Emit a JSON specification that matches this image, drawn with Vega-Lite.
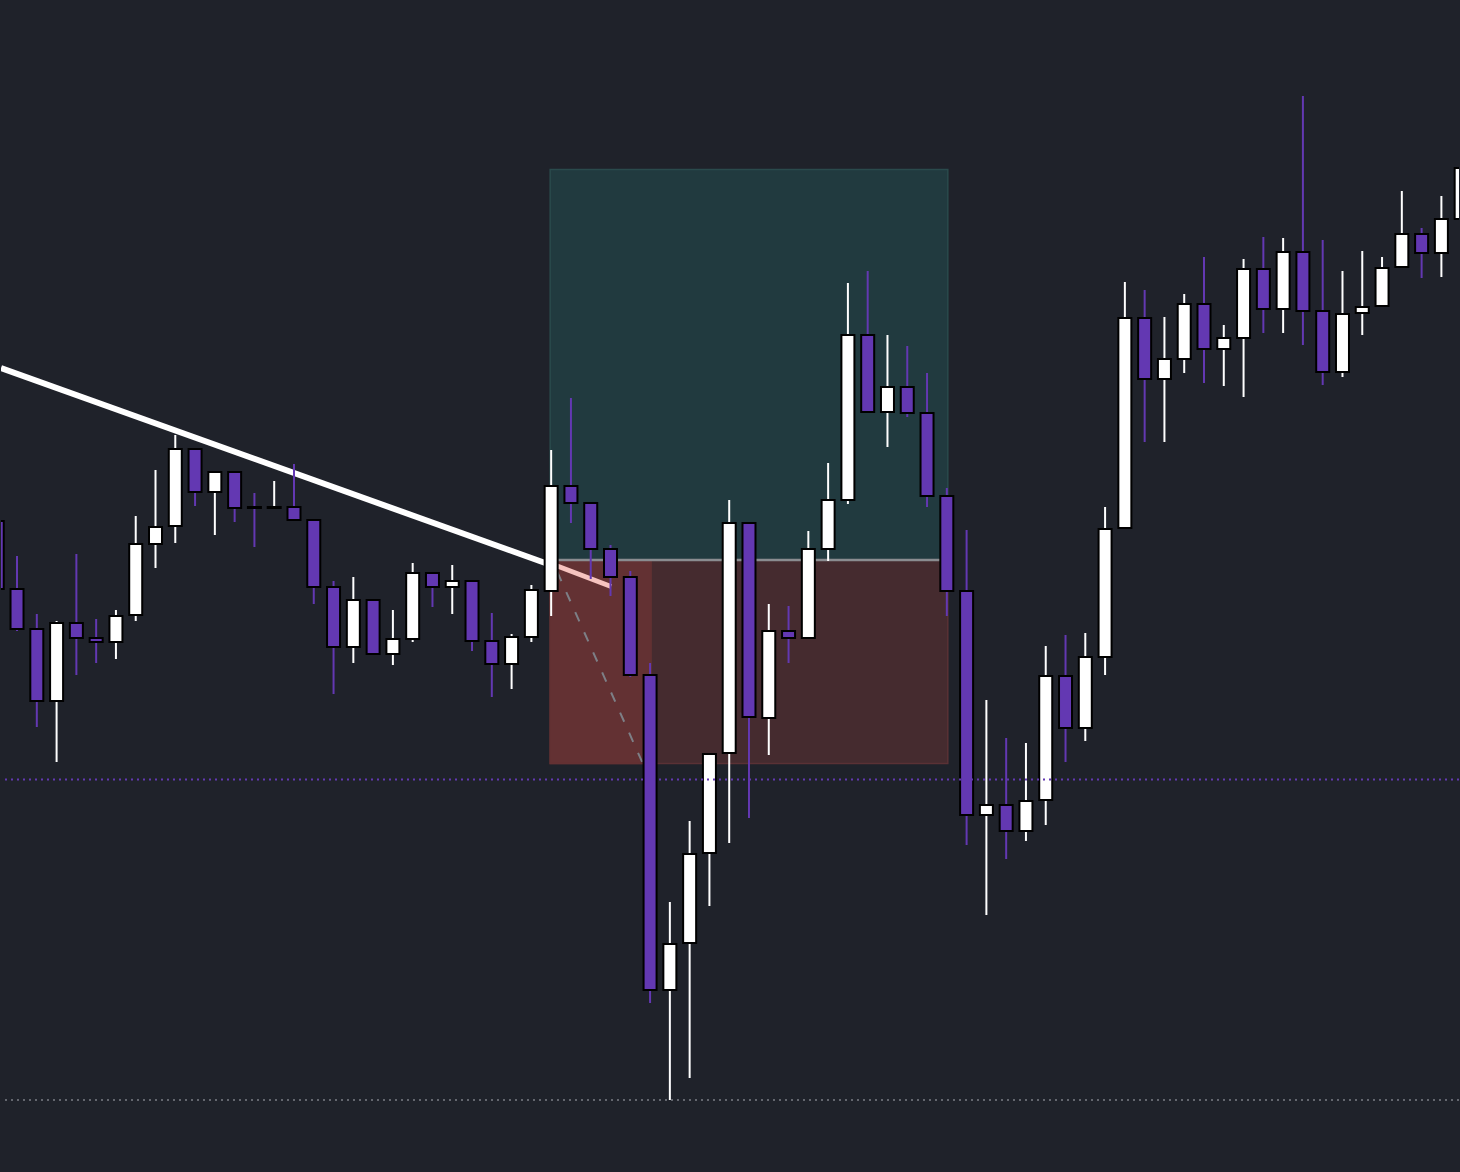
{
  "$schema": "https://vega.github.io/schema/vega-lite/v6.json",
  "width": 1460,
  "height": 1172,
  "autosize": {"type": "fit", "contains": "padding"},
  "padding": 0,
  "background": "#1f222a",
  "config": {"view": {"stroke": null}, "scale": {"continuousPadding": 0}},
  "datasets": {
    "candles": [
      {"i": 0, "o": 651, "h": 657, "l": 577, "c": 583},
      {"i": 1, "o": 583, "h": 616, "l": 541, "c": 543},
      {"i": 2, "o": 543, "h": 558, "l": 445, "c": 471},
      {"i": 3, "o": 471, "h": 551, "l": 410, "c": 549},
      {"i": 4, "o": 549, "h": 618, "l": 497, "c": 534},
      {"i": 5, "o": 534, "h": 553, "l": 509, "c": 530},
      {"i": 6, "o": 530, "h": 562, "l": 513, "c": 556},
      {"i": 7, "o": 557, "h": 656, "l": 551, "c": 628},
      {"i": 8, "o": 628, "h": 702, "l": 604, "c": 645},
      {"i": 9, "o": 646, "h": 737, "l": 629, "c": 723},
      {"i": 10, "o": 723, "h": 723, "l": 666, "c": 680},
      {"i": 11, "o": 680, "h": 700, "l": 637, "c": 700},
      {"i": 12, "o": 700, "h": 700, "l": 650, "c": 664},
      {"i": 13, "o": 665, "h": 679, "l": 625, "c": 664},
      {"i": 14, "o": 664, "h": 691, "l": 664, "c": 665},
      {"i": 15, "o": 665, "h": 708, "l": 652, "c": 652},
      {"i": 16, "o": 652, "h": 652, "l": 568, "c": 585},
      {"i": 17, "o": 585, "h": 591, "l": 478, "c": 525},
      {"i": 18, "o": 525, "h": 595, "l": 509, "c": 572},
      {"i": 19, "o": 572, "h": 572, "l": 518, "c": 518},
      {"i": 20, "o": 518, "h": 562, "l": 507, "c": 533},
      {"i": 21, "o": 533, "h": 609, "l": 530, "c": 599},
      {"i": 22, "o": 599, "h": 599, "l": 565, "c": 585},
      {"i": 23, "o": 585, "h": 607, "l": 558, "c": 591},
      {"i": 24, "o": 591, "h": 591, "l": 521, "c": 531},
      {"i": 25, "o": 531, "h": 559, "l": 475, "c": 508},
      {"i": 26, "o": 508, "h": 538, "l": 483, "c": 535},
      {"i": 27, "o": 535, "h": 587, "l": 530, "c": 582},
      {"i": 28, "o": 581, "h": 722, "l": 556, "c": 686},
      {"i": 29, "o": 686, "h": 774, "l": 649, "c": 669},
      {"i": 30, "o": 669, "h": 669, "l": 593, "c": 623},
      {"i": 31, "o": 623, "h": 627, "l": 576, "c": 595},
      {"i": 32, "o": 595, "h": 601, "l": 495, "c": 497},
      {"i": 33, "o": 497, "h": 509, "l": 169, "c": 182},
      {"i": 34, "o": 182, "h": 270, "l": 72, "c": 228},
      {"i": 35, "o": 229, "h": 351, "l": 94, "c": 318},
      {"i": 36, "o": 319, "h": 418, "l": 266, "c": 418},
      {"i": 37, "o": 419, "h": 672, "l": 329, "c": 649},
      {"i": 38, "o": 649, "h": 649, "l": 354, "c": 455},
      {"i": 39, "o": 454, "h": 568, "l": 417, "c": 541},
      {"i": 40, "o": 541, "h": 566, "l": 509, "c": 534},
      {"i": 41, "o": 534, "h": 641, "l": 534, "c": 623},
      {"i": 42, "o": 623, "h": 709, "l": 611, "c": 672},
      {"i": 43, "o": 672, "h": 889, "l": 668, "c": 837},
      {"i": 44, "o": 837, "h": 901, "l": 760, "c": 760},
      {"i": 45, "o": 760, "h": 837, "l": 725, "c": 785},
      {"i": 46, "o": 785, "h": 826, "l": 755, "c": 759},
      {"i": 47, "o": 759, "h": 799, "l": 665, "c": 676},
      {"i": 48, "o": 676, "h": 684, "l": 556, "c": 581},
      {"i": 49, "o": 581, "h": 642, "l": 327, "c": 357},
      {"i": 50, "o": 357, "h": 472, "l": 257, "c": 367},
      {"i": 51, "o": 367, "h": 434, "l": 313, "c": 341},
      {"i": 52, "o": 341, "h": 429, "l": 331, "c": 371},
      {"i": 53, "o": 372, "h": 526, "l": 347, "c": 496},
      {"i": 54, "o": 496, "h": 537, "l": 410, "c": 444},
      {"i": 55, "o": 444, "h": 539, "l": 431, "c": 515},
      {"i": 56, "o": 515, "h": 665, "l": 497, "c": 643},
      {"i": 57, "o": 644, "h": 890, "l": 644, "c": 854},
      {"i": 58, "o": 854, "h": 882, "l": 730, "c": 793},
      {"i": 59, "o": 793, "h": 855, "l": 730, "c": 813},
      {"i": 60, "o": 813, "h": 878, "l": 799, "c": 868},
      {"i": 61, "o": 868, "h": 915, "l": 789, "c": 823},
      {"i": 62, "o": 823, "h": 847, "l": 786, "c": 834},
      {"i": 63, "o": 834, "h": 913, "l": 775, "c": 903},
      {"i": 64, "o": 903, "h": 935, "l": 839, "c": 863},
      {"i": 65, "o": 863, "h": 934, "l": 839, "c": 920},
      {"i": 66, "o": 920, "h": 1076, "l": 827, "c": 861},
      {"i": 67, "o": 861, "h": 932, "l": 787, "c": 800},
      {"i": 68, "o": 800, "h": 901, "l": 795, "c": 858},
      {"i": 69, "o": 859, "h": 921, "l": 837, "c": 865},
      {"i": 70, "o": 866, "h": 915, "l": 866, "c": 904},
      {"i": 71, "o": 905, "h": 981, "l": 905, "c": 938},
      {"i": 72, "o": 938, "h": 944, "l": 894, "c": 919},
      {"i": 73, "o": 919, "h": 976, "l": 895, "c": 953},
      {"i": 74, "o": 953, "h": 1012, "l": 953, "c": 1004}
    ],
    "zones": [
      {"zone": "profit", "x0": 27.95, "x1": 48.05, "y0": 612, "y1": 1002.5},
      {"zone": "loss", "x0": 27.95, "x1": 48.05, "y0": 408.5, "y1": 612},
      {"zone": "elapsed", "x0": 27.95, "x1": 33.05, "y0": 408.5, "y1": 612}
    ],
    "entry": [
      {"x0": 27.95, "x1": 48.05, "price": 612}
    ],
    "trend": [
      {"i": 0.19, "p": 804},
      {"i": 27.7, "p": 609}
    ],
    "trendBroken": [
      {"i": 28.31, "p": 606},
      {"i": 31.03, "p": 585.5}
    ],
    "path": [
      {"i": 28.31, "p": 600},
      {"i": 32.6, "p": 410}
    ],
    "target": [{"price": 392.5}],
    "swingLow": [{"price": 72}]
  },
  "layer": [
    {
      "data": {"name": "zones"},
      "mark": {"type": "rect", "strokeWidth": 1.5, "clip": true},
      "encoding": {
        "x": {"field": "x0", "type": "quantitative", "axis": null, "scale": {"domain": [0.19, 73.89], "nice": false, "zero": false, "padding": 0}},
        "x2": {"field": "x1"},
        "y": {"field": "y0", "type": "quantitative", "axis": null, "scale": {"domain": [0, 1172], "nice": false, "zero": false, "padding": 0}},
        "y2": {"field": "y1"},
        "fill": {"field": "zone", "type": "nominal", "legend": null, "scale": {"domain": ["profit", "loss", "elapsed"], "range": ["#213a3f", "#452b2f", "#633133"]}},
        "stroke": {"field": "zone", "type": "nominal", "legend": null, "scale": {"domain": ["profit", "loss", "elapsed"], "range": ["#2a4a4c", "#5a3135", "#633133"]}}
      }
    },
    {
      "data": {"name": "entry"},
      "mark": {"type": "rule", "color": "#8a8c90", "strokeWidth": 2.5},
      "encoding": {
        "x": {"field": "x0", "type": "quantitative", "axis": null, "scale": {"domain": [0.19, 73.89], "nice": false, "zero": false, "padding": 0}},
        "x2": {"field": "x1"},
        "y": {"field": "price", "type": "quantitative", "axis": null, "scale": {"domain": [0, 1172], "nice": false, "zero": false, "padding": 0}}
      }
    },
    {
      "data": {"name": "swingLow"},
      "mark": {"type": "rule", "color": "#7c7f86", "strokeWidth": 1.5, "strokeDash": [2, 4]},
      "encoding": {
        "y": {"field": "price", "type": "quantitative", "axis": null, "scale": {"domain": [0, 1172], "nice": false, "zero": false, "padding": 0}}
      }
    },
    {
      "data": {"name": "trend"},
      "mark": {"type": "line", "color": "#ffffff", "strokeWidth": 6, "clip": true},
      "encoding": {
        "x": {"field": "i", "type": "quantitative", "axis": null, "scale": {"domain": [0.19, 73.89], "nice": false, "zero": false, "padding": 0}},
        "y": {"field": "p", "type": "quantitative", "axis": null, "scale": {"domain": [0, 1172], "nice": false, "zero": false, "padding": 0}}
      }
    },
    {
      "data": {"name": "path"},
      "mark": {"type": "line", "color": "#7d7f86", "strokeWidth": 2, "strokeDash": [10, 12]},
      "encoding": {
        "x": {"field": "i", "type": "quantitative", "axis": null, "scale": {"domain": [0.19, 73.89], "nice": false, "zero": false, "padding": 0}},
        "y": {"field": "p", "type": "quantitative", "axis": null, "scale": {"domain": [0, 1172], "nice": false, "zero": false, "padding": 0}}
      }
    },
    {
      "data": {"name": "trendBroken"},
      "mark": {"type": "line", "color": "#f6c3bf", "strokeWidth": 5},
      "encoding": {
        "x": {"field": "i", "type": "quantitative", "axis": null, "scale": {"domain": [0.19, 73.89], "nice": false, "zero": false, "padding": 0}},
        "y": {"field": "p", "type": "quantitative", "axis": null, "scale": {"domain": [0, 1172], "nice": false, "zero": false, "padding": 0}}
      }
    },
    {
      "data": {"name": "candles"},
      "mark": {"type": "rule", "strokeWidth": 2, "clip": true},
      "encoding": {
        "x": {"field": "i", "type": "quantitative", "axis": null, "scale": {"domain": [0.19, 73.89], "nice": false, "zero": false, "padding": 0}},
        "y": {"field": "l", "type": "quantitative", "axis": null, "scale": {"domain": [0, 1172], "nice": false, "zero": false, "padding": 0}},
        "y2": {"field": "h"},
        "color": {"condition": {"test": "datum.c >= datum.o", "value": "#ffffff"}, "value": "#6338b2"}
      }
    },
    {
      "data": {"name": "candles"},
      "mark": {"type": "bar", "size": 13, "stroke": "#000000", "strokeWidth": 2, "clip": true},
      "encoding": {
        "x": {"field": "i", "type": "quantitative", "axis": null, "scale": {"domain": [0.19, 73.89], "nice": false, "zero": false, "padding": 0}},
        "y": {"field": "o", "type": "quantitative", "axis": null, "scale": {"domain": [0, 1172], "nice": false, "zero": false, "padding": 0}},
        "y2": {"field": "c"},
        "fill": {"condition": {"test": "datum.c >= datum.o", "value": "#ffffff"}, "value": "#6338b2"}
      }
    },
    {
      "data": {"name": "target"},
      "mark": {"type": "rule", "color": "#6338b2", "strokeWidth": 2, "strokeDash": [2, 4]},
      "encoding": {
        "y": {"field": "price", "type": "quantitative", "axis": null, "scale": {"domain": [0, 1172], "nice": false, "zero": false, "padding": 0}}
      }
    }
  ]
}
